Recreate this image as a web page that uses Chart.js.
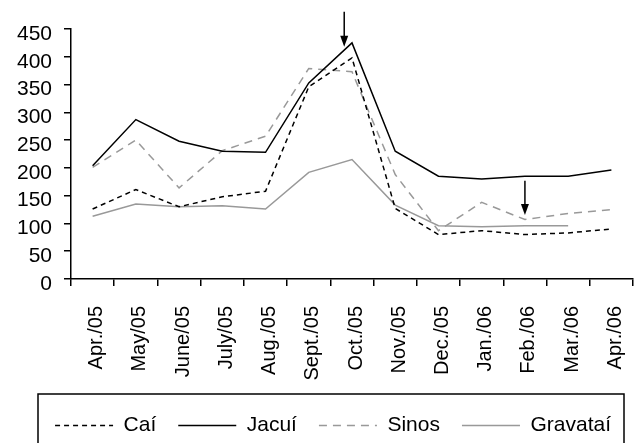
<!DOCTYPE html>
<html>
<head>
<meta charset="utf-8">
<script src="https://cdn.jsdelivr.net/npm/chart.js@4.4.1/dist/chart.umd.min.js"></script>
<style>
  html, body { margin: 0; padding: 0; background: #fff; overflow: hidden; }
  #wrap { width: 640px; height: 470px; }
</style>
</head>
<body>
<div id="wrap"><canvas id="chart" width="640" height="470"></canvas></div>
<script>
const months = ['Apr./05', 'May/05', 'June/05', 'July/05', 'Aug./05', 'Sept./05', 'Oct./05',
    'Nov./05', 'Dec./05', 'Jan./06', 'Feb./06', 'Mar./06', 'Apr./06'];

const cai = [126, 161, 130, 148, 158, 346, 398, 127, 80, 87, 80, 83, 90];
const jacui = [204, 287, 248, 230, 228, 353, 425, 230, 185, 180, 185, 185, 196];
const sinos = [201, 250, 164, 231, 257, 379, 373, 188, 87, 138, 107, 118, 125];
const gravatai = [113, 135, 130, 132, 126, 192, 215, 133, 96, 94, 96, 96, null];

const yTicks = [0, 50, 100, 150, 200, 250, 300, 350, 400, 450];

// arrows: category position, value at the top of the shaft, value at the tip
const arrowAt = [5.82, 10];
const arrowFrom = [481, 177];
const arrowTo = [418, 115];

const tickFont = { family: "'Liberation Sans', Arial, sans-serif" };

// arrows pointing at the peaks
const arrowsPlugin = {
    id: 'arrows',
    afterDatasetsDraw(chart) {
        const { ctx, scales: { x, y } } = chart;
        ctx.save();
        ctx.strokeStyle = '#000';
        ctx.fillStyle = '#000';
        ctx.lineWidth = 1.5;
        arrowAt.forEach((pos, i) => {
            const px = x.getPixelForValue(pos);
            const top = y.getPixelForValue(arrowFrom[i]);
            const tip = y.getPixelForValue(arrowTo[i]);
            ctx.beginPath();
            ctx.moveTo(px, top);
            ctx.lineTo(px, tip - 8);
            ctx.stroke();
            ctx.beginPath();
            ctx.moveTo(px - 4, tip - 11);
            ctx.lineTo(px + 4, tip - 11);
            ctx.lineTo(px, tip);
            ctx.closePath();
            ctx.fill();
        });
        ctx.restore();
    }
};

// frame round the legend, open at the bottom of the page
const legendFrame = {
    id: 'legendFrame',
    afterDraw(chart) {
        const lg = chart.legend;
        if (!lg || !lg.legendHitBoxes.length) return;
        const hb = lg.legendHitBoxes[0];
        const { ctx } = chart;
        ctx.save();
        ctx.strokeStyle = '#000';
        ctx.lineWidth = 1.5;
        ctx.strokeRect(lg.left + 38, hb.top - 21, lg.right - lg.left - 47, chart.height);
        ctx.restore();
    }
};

new Chart(document.getElementById('chart'), {
    type: 'line',
    data: {
        labels: months,
        datasets: [
            { label: 'Caí', data: cai, borderColor: '#000', borderWidth: 1.5, borderDash: [5, 4] },
            { label: 'Jacuí', data: jacui, borderColor: '#000', borderWidth: 1.5 },
            { label: 'Sinos', data: sinos, borderColor: '#999', borderWidth: 1.5, borderDash: [8, 6] },
            { label: 'Gravataí', data: gravatai, borderColor: '#999', borderWidth: 1.5 }
        ]
    },
    options: {
        responsive: false,
        animation: false,
        events: [],
        elements: {
            point: { radius: 0 },
            line: { tension: 0, fill: false }
        },
        layout: { padding: { left: 0, right: 7, top: 29, bottom: 24 } },
        scales: {
            x: {
                offset: true,
                grid: { offset: true, drawOnChartArea: false, color: '#000', lineWidth: 1.5, tickLength: 7 },
                border: { color: '#000', width: 1.5 },
                ticks: {
                    color: '#000', font: { ...tickFont, size: 20 },
                    minRotation: 90, maxRotation: 90, autoSkip: false, padding: 20, labelOffset: 4
                },
                afterFit: scale => {
                    scale.height = 114;
                    // the rotated labels fit inside the categories, no extra side room needed
                    scale.paddingLeft = 0;
                    scale.paddingRight = 0;
                }
            },
            y: {
                min: 0,
                max: 450,
                afterBuildTicks: scale => { scale.ticks = yTicks.map(v => ({ value: v })); },
                grid: { drawOnChartArea: false, color: '#000', lineWidth: 1.5, tickLength: 7 },
                border: { color: '#000', width: 1.5 },
                ticks: { color: '#000', font: { ...tickFont, size: 21 }, padding: 12, labelOffset: 5, autoSkip: false },
                afterFit: scale => { scale.width = 71; }
            }
        },
        plugins: {
            tooltip: { enabled: false },
            legend: {
                position: 'bottom',
                align: 'end',
                labels: {
                    color: '#000',
                    font: { family: "'Liberation Sans', Arial, sans-serif", size: 21 },
                    usePointStyle: true,
                    pointStyle: 'line',
                    pointStyleWidth: 58,
                    padding: 22,
                    generateLabels: chart => Chart.defaults.plugins.legend.labels.generateLabels(chart)
                        .map((item, i) => ({ ...item, lineDash: chart.data.datasets[i].borderDash || [] }))
                }
            }
        }
    },
    plugins: [arrowsPlugin, legendFrame]
});
</script>
</body>
</html>
